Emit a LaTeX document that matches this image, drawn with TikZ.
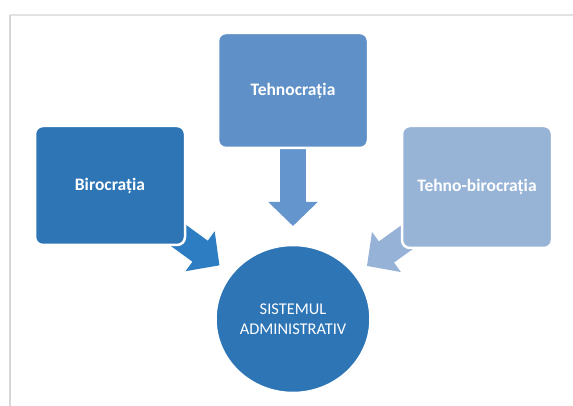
\documentclass[tikz,border=0pt]{standalone}
\usepackage{fontspec}
\setmainfont{Carlito}
\usetikzlibrary{shapes.geometric,arrows.meta,shadows}
\definecolor{cdark}{HTML}{2E75B6}
\definecolor{cmid}{HTML}{5F91C8}
\definecolor{clight}{HTML}{97B4D7}
\definecolor{adark}{HTML}{2D7DC3}
\definecolor{amid}{HTML}{6496CD}
\definecolor{alight}{HTML}{96B2D7}
\definecolor{frameg}{HTML}{D6D6D6}
\tikzset{
  boxnode/.style={rectangle, rounded corners=8pt, draw=white, line width=2.5pt,
    minimum width=150pt, minimum height=119pt, inner sep=0pt, text=white,
    font=\bfseries\fontsize{17.5}{21}\selectfont,
    drop shadow={shadow xshift=0.8pt, shadow yshift=-0.8pt, opacity=0.25}},
  circnode/.style={ellipse, draw=white, line width=2.5pt, fill=cdark,
    minimum width=155pt, minimum height=148pt, inner sep=0pt, text=white,
    align=center, font=\fontsize{16.4}{19.5}\selectfont,
    drop shadow={shadow xshift=0.8pt, shadow yshift=-0.8pt, opacity=0.25}},
  blockarrow/.style={line width=26pt, -{Triangle[length=24pt,width=48pt]}}
}
\begin{document}
\begin{tikzpicture}[x=1pt,y=-1pt]
\useasboundingbox (0,0) rectangle (573,406);
\fill[white] (0,0) rectangle (573,406);
% frame
\draw[frameg!70, line width=1.2pt] (10,15) -- (573,15);
\draw[frameg, line width=2.5pt] (10,15) -- (10,406);
% node positions
\coordinate (pb) at (110,185.5);
\coordinate (pt) at (293,90.5);
\coordinate (pr) at (477,187);
\coordinate (pc) at (293,319);
% arrows (behind boxes)
\draw[blockarrow, adark, shorten >=91pt] (pb) -- (pc);
\draw[blockarrow, amid, shorten >=93pt] (pt) -- (pc);
\draw[blockarrow, alight, shorten >=91pt] (pr) -- (pc);
% boxes
\node[boxnode, fill=cdark] (biro) at (pb) {Birocrația};
\node[boxnode, fill=cmid, minimum height=115pt] (tehno) at (pt) {Tehnocrația};
\node[boxnode, fill=clight, minimum height=122pt] (tb) at (pr) {Tehno-birocrația};
\node[circnode] (sys) at (pc) {SISTEMUL\\ADMINISTRATIV};
\end{tikzpicture}
\end{document}
